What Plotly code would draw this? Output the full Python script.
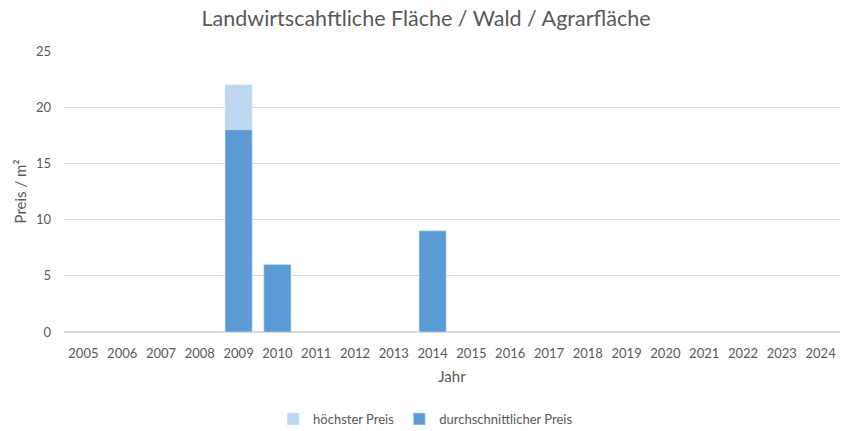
import plotly.graph_objects as go

years = [str(y) for y in range(2005, 2025)]
hoechster = [None, None, None, None, 22, 6, None, None, None, 9, None, None, None, None, None, None, None, None, None, None]
durchschnitt = [None, None, None, None, 18, 6, None, None, None, 9, None, None, None, None, None, None, None, None, None, None]

font_family = "Lato, 'Open Sans', sans-serif"
grey = "#595959"

fig = go.Figure()
fig.add_trace(go.Bar(x=years, y=hoechster, name="höchster Preis", marker_color="#BDD7EE", width=0.7))
fig.add_trace(go.Bar(x=years, y=durchschnitt, name="durchschnittlicher Preis", marker_color="#5B9BD5", width=0.7))

fig.update_layout(
    barmode="overlay",
    width=852, height=431,
    margin=dict(l=64, r=12, t=51, b=99),
    plot_bgcolor="white", paper_bgcolor="white",
    font=dict(family=font_family, color=grey, size=13),
    title=dict(text="Landwirtscahftliche Fläche / Wald / Agrarfläche", x=0.5, xanchor="center",
               y=1 - 18 / 431, yanchor="middle", font=dict(size=21.5, color=grey)),
    legend=dict(orientation="h", x=0.466, xanchor="center", yref="container", y=12 / 431, yanchor="middle",
                font=dict(size=13, color=grey), traceorder="normal"),
    showlegend=True,
)
fig.update_xaxes(type="category", showgrid=False, showline=False, ticks="", ticklabelstandoff=12,
                 title=dict(text="Jahr", standoff=11, font=dict(size=15, color=grey)),
                 tickfont=dict(size=13, color=grey))
fig.update_yaxes(range=[0, 25], dtick=5, showgrid=True, gridcolor="#D9D9D9", zeroline=True,
                 zerolinecolor="#D9D9D9", showline=False, ticks="", ticklabelstandoff=12,
                 title=dict(text="Preis / m²", standoff=5, font=dict(size=15, color=grey)),
                 tickfont=dict(size=13, color=grey))

fig.write_html("out.html")
